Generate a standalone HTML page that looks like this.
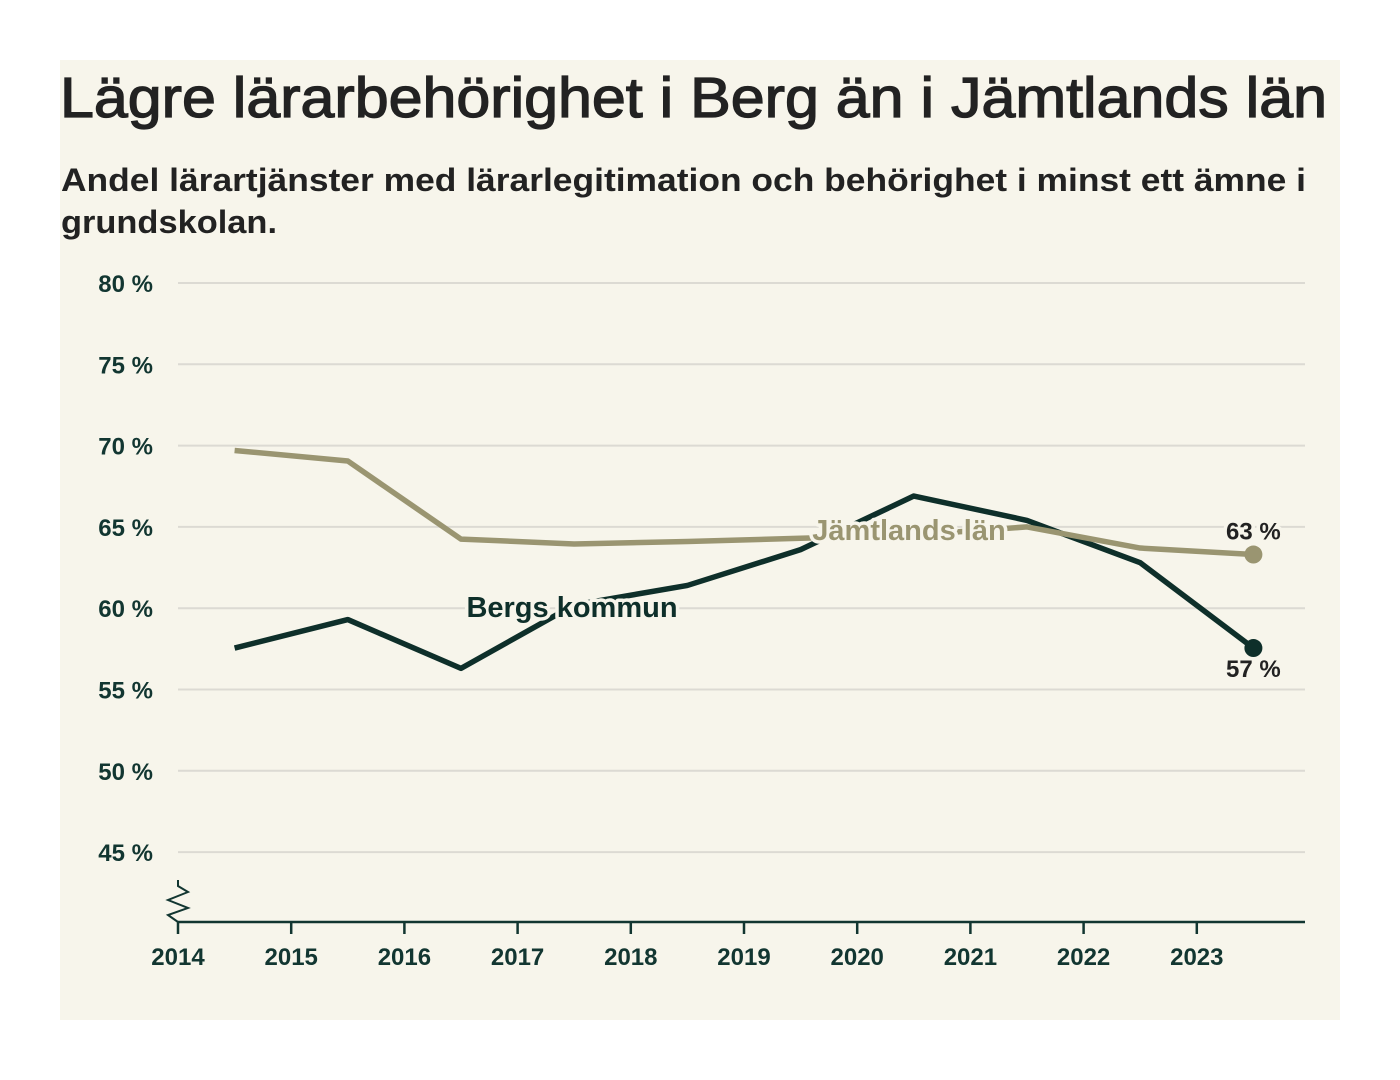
<!DOCTYPE html>
<html><head><meta charset="utf-8">
<style>
html,body{margin:0;padding:0;background:#fff;}
svg{display:block;font-family:"Liberation Sans",sans-serif;}
</style></head>
<body>
<svg id="chart" width="1400" height="1080" viewBox="0 0 1400 1080" xmlns="http://www.w3.org/2000/svg">
<rect x="60" y="60" width="1280" height="960" fill="#f7f5eb"/>
<text x="60" y="117" font-size="57" fill="#222" stroke="#222" stroke-width="1.3" textLength="1267" lengthAdjust="spacingAndGlyphs">Lägre lärarbehörighet i Berg än i Jämtlands län</text>
<text x="61" y="191" font-size="32" font-weight="bold" fill="#222" textLength="1245" lengthAdjust="spacingAndGlyphs">Andel lärartjänster med lärarlegitimation och behörighet i minst ett ämne i</text>
<text x="61" y="233" font-size="32" font-weight="bold" fill="#222" textLength="216" lengthAdjust="spacingAndGlyphs">grundskolan.</text>
<g id="grid"></g><g id="axes"></g><g id="series"></g><g id="labels"></g>
</svg>
<script>
const years = [2014,2015,2016,2017,2018,2019,2020,2021,2022,2023];
const yTicks = [45,50,55,60,65,70,75,80];
const pointYears = [2014.5,2015.5,2016.5,2017.5,2018.5,2019.5,2020.5,2021.5,2022.5,2023.5];
const jamtland = [69.7,69.05,64.25,63.95,64.1,64.3,64.5,65.0,63.7,63.3];
const berg = [57.55,59.3,56.3,60.2,61.4,63.6,66.9,65.4,62.8,57.55];
const endLabels = ["63 %","57 %"];
const NS="http://www.w3.org/2000/svg";
const x = v => 178 + (v-2014)*113.2;
const y = v => 283 + (80-v)*16.26;
function mk(tag, attrs, parent){const e=document.createElementNS(NS,tag);for(const k in attrs)e.setAttribute(k,attrs[k]);parent.appendChild(e);return e;}
const grid=document.getElementById('grid'), axes=document.getElementById('axes'), series=document.getElementById('series'), labels=document.getElementById('labels');
yTicks.forEach(t=>{
  const l=mk('line',{x1:178,x2:1305,y1:y(t),y2:y(t),stroke:'#dcdad3','stroke-width':2},grid);
  
  
  const tx=mk('text',{x:153,y:y(t)+9,'font-size':24,'font-weight':'bold',fill:'#123631','text-anchor':'end'},grid);
  tx.textContent=t+' %';
  
  
});
const ax=mk('line',{x1:178,x2:1305,y1:922,y2:922,stroke:'#123631','stroke-width':2.5},axes);


const zz=mk('path',{d:'M178 880 L178 886 L188 892 L168 900 L188 908 L168 915 L178 922',fill:'none',stroke:'#123631','stroke-width':2},axes);


years.forEach(yr=>{
  const t=mk('line',{x1:x(yr),x2:x(yr),y1:922,y2:934,stroke:'#123631','stroke-width':2.5},axes);
  
  
  const tx=mk('text',{x:x(yr),y:965,'font-size':24,'font-weight':'bold',fill:'#123631','text-anchor':'middle'},axes);
  tx.textContent=yr;
  
  
});
function pts(vals){return vals.map((v,i)=>x(pointYears[i])+','+y(v)).join(' ');}
const bl=mk('polyline',{points:pts(berg),fill:'none',stroke:'#0e2f2a','stroke-width':5.5,'stroke-linejoin':'round'},series);


const jl=mk('polyline',{points:pts(jamtland),fill:'none',stroke:'#9a9571','stroke-width':5.5,'stroke-linejoin':'round'},series);


const n=pointYears.length-1;
const jd=mk('circle',{cx:x(pointYears[n]),cy:y(jamtland[n]),r:9,fill:'#9a9571'},series);


const bd=mk('circle',{cx:x(pointYears[n]),cy:y(berg[n]),r:9,fill:'#0e2f2a'},series);


function halo(txt,xx,yy,col,anchor,size,name){
  const t=mk('text',{x:xx,y:yy,'font-size':size,'font-weight':'bold',fill:col,'text-anchor':anchor,stroke:'#f7f5eb','stroke-width':7,'paint-order':'stroke','stroke-linejoin':'round'},labels);
  t.textContent=txt;
  
  
}
halo('Jämtlands län',909,540,'#9a9571','middle',29,'jamtland-series-label');
halo('Bergs kommun',572,617,'#0e2f2a','middle',29,'berg-series-label');
halo(endLabels[0],x(pointYears[n]),y(jamtland[n])-15,'#222','middle',24,'jamtland-end-label');
halo(endLabels[1],x(pointYears[n]),y(berg[n])+29,'#222','middle',24,'berg-end-label');
</script>
</body></html>
